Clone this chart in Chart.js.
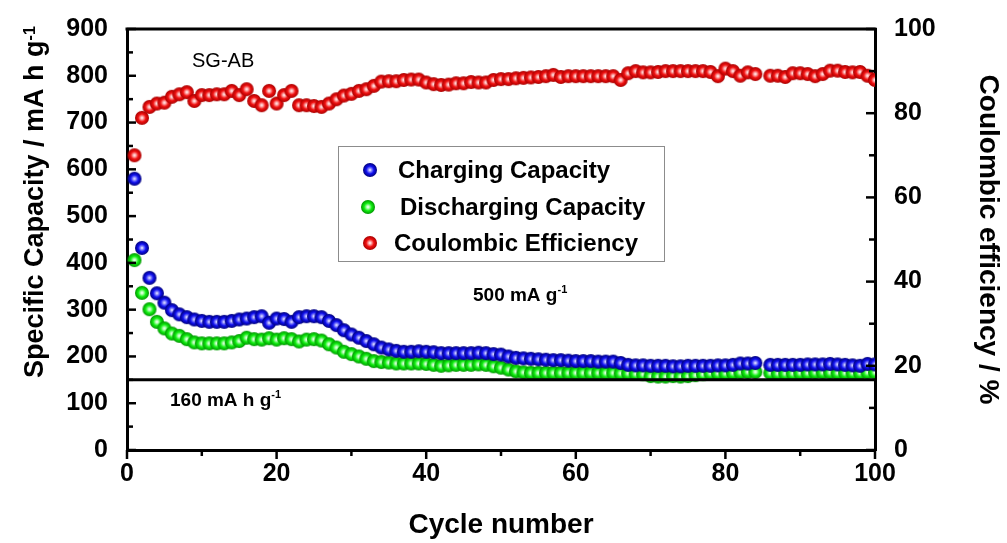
<!DOCTYPE html>
<html>
<head>
<meta charset="utf-8">
<script src="https://cdn.jsdelivr.net/npm/chart.js@4.4.1/dist/chart.umd.min.js"></script>
<style>
  html, body { margin: 0; padding: 0; background: #fff; }
  #wrap { width: 1007px; height: 543px; }
</style>
</head>
<body>
<div id="wrap"><canvas id="myChart" width="1007" height="543"></canvas></div>
<script>
// cycle numbers (x)
const cycles = [
	1, 2, 3, 4, 5, 6, 7, 8, 9, 10, 11, 12, 13, 14, 15, 16, 17, 18, 19, 20,
	21, 22, 23, 24, 25, 26, 27, 28, 29, 30, 31, 32, 33, 34, 35, 36, 37, 38, 39, 40,
	41, 42, 43, 44, 45, 46, 47, 48, 49, 50, 51, 52, 53, 54, 55, 56, 57, 58, 59, 60,
	61, 62, 63, 64, 65, 66, 67, 68, 69, 70, 71, 72, 73, 74, 75, 76, 77, 78, 79, 80,
	81, 82, 83, 84, 85, 86, 87, 88, 89, 90, 91, 92, 93, 94, 95, 96, 97, 98, 99, 100
];

// charging capacity, mA h g-1 (left axis)
const charging = [
	580, 432, 368, 335, 315, 299, 290, 284, 279, 276, 274, 274, 274, 276, 279, 281, 284, 286, 272, 281,
	280, 274, 284, 286, 286, 284, 276, 267, 256, 247, 240, 233, 226, 219, 215, 212, 210, 210, 211, 210,
	209, 207, 207, 207, 207, 207, 208, 207, 205, 204, 200, 197, 196, 195, 194, 193, 192, 192, 191, 190,
	190, 190, 189, 189, 189, 186, 182, 181, 181, 180, 180, 180, 179, 179, 180, 180, 180, 180, 181, 181,
	182, 185, 185, 186, null, 182, 182, 182, 182, 182, 183, 183, 183, 184, 183, 182, 181, 180, 184, 183
];

// discharging capacity, mA h g-1 (left axis)
const discharging = [
	406, 336, 301, 274, 260, 249, 244, 237, 230, 228, 228, 228, 228, 230, 233, 240, 237, 236, 239, 236,
	239, 237, 232, 236, 237, 234, 226, 219, 210, 205, 200, 195, 190, 188, 187, 185, 185, 185, 185, 184,
	182, 180, 181, 182, 182, 182, 183, 182, 179, 176, 172, 168, 166, 165, 165, 165, 165, 165, 165, 165,
	165, 165, 165, 165, 165, 164, 164, 163, 162, 158, 157, 157, 158, 157, 158, 160, 162, 164, 164, 164,
	165, 166, 167, 167, null, 165, 164, 164, 164, 165, 165, 166, 166, 166, 165, 165, 165, 165, 166, 166
];

// coulombic efficiency, % (right axis)
const efficiency = [
	70.0, 78.9, 81.5, 82.3, 82.5, 83.9, 84.5, 85.0, 82.9, 84.3, 84.3, 84.5, 84.5, 85.3, 84.3, 85.7, 82.9, 81.9, 85.3, 82.3,
	84.3, 85.3, 81.9, 81.9, 81.7, 81.5, 82.3, 83.3, 84.2, 84.6, 85.3, 85.7, 86.5, 87.5, 87.6, 87.6, 87.9, 88.0, 88.0, 87.3,
	86.9, 86.7, 86.8, 87.1, 87.1, 87.4, 87.3, 87.3, 87.9, 88.1, 88.1, 88.3, 88.4, 88.5, 88.6, 88.8, 89.1, 88.6, 88.8, 88.8,
	88.8, 88.8, 88.8, 88.8, 88.8, 87.9, 89.5, 90.0, 89.7, 89.7, 89.8, 90.0, 90.0, 90.0, 90.0, 90.0, 90.0, 89.8, 88.8, 90.6,
	90.0, 88.9, 89.7, 89.3, null, 88.9, 88.9, 88.6, 89.5, 89.5, 89.3, 88.8, 89.3, 90.1, 90.1, 89.8, 89.7, 89.8, 88.9, 87.9
];

// tick labels
const xTicks = [0, 20, 40, 60, 80, 100];
const capTicks = [0, 100, 200, 300, 400, 500, 600, 700, 800, 900];
const effTicks = [0, 20, 40, 60, 80, 100];

// capacity of the reference line drawn across the plot
const refCapacity = 150;

const seriesNames = ["Charging Capacity", "Discharging Capacity", "Coulombic Efficiency"];

const FONT = "'Liberation Sans', Arial, sans-serif";

// shaded ball used as the marker
function ball(base, light, dark, r) {
	const c = document.createElement("canvas");
	const s = Math.ceil(r * 2) + 2;
	c.width = s;
	c.height = s;
	const g = c.getContext("2d");
	const m = s / 2;
	const grad = g.createRadialGradient(m, m, 0, m, m, r);
	grad.addColorStop(0, "#ffffff");
	grad.addColorStop(0.2, light);
	grad.addColorStop(0.55, base);
	grad.addColorStop(1, dark);
	g.fillStyle = grad;
	g.beginPath();
	g.arc(m, m, r, 0, Math.PI * 2);
	g.fill();
	return c;
}

const blueBall = ball("#1010f0", "#9a9aff", "#00007a", 7);
const greenBall = ball("#10ee10", "#b4ffb4", "#009400", 7);
const redBall = ball("#f01010", "#ffb0b0", "#a80000", 7);
const balls = [blueBall, greenBall, redBall];

function pts(vals) {
	return cycles.map((c, i) => ({ x: c, y: vals[i] }));
}

// text with a small raised "-1"
function supText(ctx, x, y, main, sup, size, supSize, rise) {
	ctx.font = "bold " + size + "px " + FONT;
	ctx.fillText(main, x, y);
	const w = ctx.measureText(main).width;
	ctx.font = "bold " + supSize + "px " + FONT;
	ctx.fillText(sup, x + w, y - rise);
}

const decor = {
	id: "decor",
	afterDatasetsDraw(chart) {
		const { ctx, chartArea: a, scales } = chart;
		const { x, y, y2 } = scales;
		ctx.save();
		ctx.strokeStyle = "#000";
		ctx.lineCap = "butt";

		// top frame line
		ctx.lineWidth = 3;
		ctx.beginPath();
		ctx.moveTo(a.left - 1.5, a.top);
		ctx.lineTo(a.right + 1.5, a.top);
		ctx.stroke();

		// reference capacity line
		const yr = y.getPixelForValue(refCapacity);
		ctx.beginPath();
		ctx.moveTo(a.left, yr);
		ctx.lineTo(a.right, yr);
		ctx.stroke();

		// tick marks: inward on the y axes, outward on x
		ctx.lineWidth = 2.5;
		for (let i = 0; i < capTicks.length; i++) {
			const v = capTicks[i];
			let p = y.getPixelForValue(v);
			ctx.beginPath(); ctx.moveTo(a.left, p); ctx.lineTo(a.left + 9, p); ctx.stroke();
			if (i < capTicks.length - 1) {
				p = y.getPixelForValue((v + capTicks[i + 1]) / 2);
				ctx.beginPath(); ctx.moveTo(a.left, p); ctx.lineTo(a.left + 6, p); ctx.stroke();
			}
		}
		for (let i = 0; i < effTicks.length; i++) {
			const v = effTicks[i];
			let p = y2.getPixelForValue(v);
			ctx.beginPath(); ctx.moveTo(a.right, p); ctx.lineTo(a.right - 9, p); ctx.stroke();
			if (i < effTicks.length - 1) {
				p = y2.getPixelForValue((v + effTicks[i + 1]) / 2);
				ctx.beginPath(); ctx.moveTo(a.right, p); ctx.lineTo(a.right - 6, p); ctx.stroke();
			}
		}
		for (let i = 0; i < xTicks.length; i++) {
			const v = xTicks[i];
			let p = x.getPixelForValue(v);
			ctx.beginPath(); ctx.moveTo(p, a.bottom); ctx.lineTo(p, a.bottom + 9); ctx.stroke();
			if (i < xTicks.length - 1) {
				p = x.getPixelForValue((v + xTicks[i + 1]) / 2);
				ctx.beginPath(); ctx.moveTo(p, a.bottom); ctx.lineTo(p, a.bottom + 6); ctx.stroke();
			}
		}
		ctx.restore();
	},
	afterDraw(chart) {
		const ctx = chart.ctx;
		ctx.save();
		ctx.fillStyle = "#000";
		ctx.textBaseline = "alphabetic";
		ctx.textAlign = "left";

		// left axis title (with superscript)
		ctx.save();
		ctx.translate(43, 378);
		ctx.rotate(-Math.PI / 2);
		supText(ctx, 0, 0, "Specific Capacity / mA h g", "-1", 27, 16, 8);
		ctx.restore();

		// annotations
		ctx.font = "20px " + FONT;
		ctx.fillText("SG-AB", 192, 67);
		supText(ctx, 473, 301, "500 mA g", "-1", 19, 11, 8);
		supText(ctx, 170, 406, "160 mA h g", "-1", 19, 11, 8);

		// legend box
		ctx.strokeStyle = "#8c8c8c";
		ctx.lineWidth = 1;
		ctx.strokeRect(338.5, 146.5, 326, 115);
		const rows = [
			{ mx: 370, my: 170, tx: 398 },
			{ mx: 368, my: 207, tx: 400 },
			{ mx: 370, my: 243, tx: 394 }
		];
		ctx.textBaseline = "middle";
		ctx.font = "bold 24px " + FONT;
		rows.forEach((r, i) => {
			const b = balls[i];
			ctx.drawImage(b, r.mx - b.width / 2, r.my - b.height / 2);
			ctx.fillText(seriesNames[i], r.tx, r.my + 1);
		});
		ctx.restore();
	}
};

const tickFont = { family: FONT, size: 25, weight: "bold" };

new Chart(document.getElementById("myChart"), {
	type: "scatter",
	data: {
		datasets: [
			{ label: seriesNames[0], data: pts(charging), yAxisID: "y", pointStyle: blueBall },
			{ label: seriesNames[1], data: pts(discharging), yAxisID: "y", pointStyle: greenBall },
			{ label: seriesNames[2], data: pts(efficiency), yAxisID: "y2", pointStyle: redBall }
		]
	},
	options: {
		responsive: false,
		animation: false,
		layout: { padding: { top: 29, left: 0, right: 0, bottom: 0 } },
		plugins: { legend: { display: false }, tooltip: { enabled: false } },
		scales: {
			x: {
				type: "linear",
				min: 0,
				max: 100,
				afterBuildTicks: (s) => { s.ticks = xTicks.map((v) => ({ value: v })); },
				afterFit: (s) => { s.height = 93; },
				grid: { display: false },
				border: { color: "#000", width: 3 },
				ticks: { color: "#000", font: tickFont, padding: 1, maxRotation: 0 },
				title: {
					display: true,
					text: "Cycle number",
					color: "#000",
					font: { family: FONT, size: 28, weight: "bold" },
					padding: { top: 0, bottom: 1 }
				}
			},
			y: {
				position: "left",
				min: 0,
				max: 900,
				afterBuildTicks: (s) => { s.ticks = capTicks.map((v) => ({ value: v })); },
				afterFit: (s) => { s.width = 127; },
				grid: { display: false },
				border: { color: "#000", width: 3 },
				ticks: { color: "#000", font: tickFont, padding: 11 }
			},
			y2: {
				position: "right",
				min: 0,
				max: 100,
				afterBuildTicks: (s) => { s.ticks = effTicks.map((v) => ({ value: v })); },
				afterFit: (s) => { s.width = 132; },
				grid: { display: false },
				border: { color: "#000", width: 3 },
				ticks: { color: "#000", font: tickFont, padding: 11 },
				title: {
					display: true,
					text: "Coulombic efficiency / %",
					color: "#000",
					font: { family: FONT, size: 28, weight: "bold" },
					padding: { top: 2, bottom: 2 }
				}
			}
		}
	},
	plugins: [decor]
});
</script>
</body>
</html>
